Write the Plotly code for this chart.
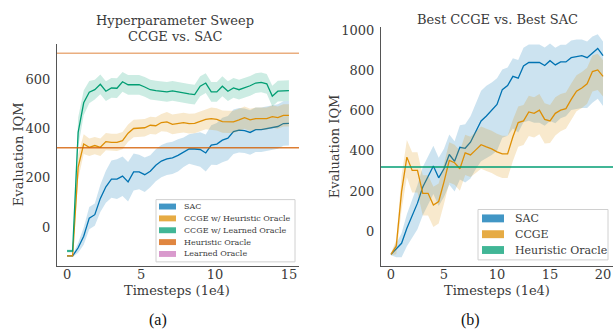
import plotly.graph_objects as go

# ---------------- data: panel (a) ----------------
x_a = [i * 0.375 for i in range(41)]
sac_a = [-116, -116, -83, -36, 37, 51, 117, 164, 195, 195,
         207, 184, 224, 224, 213, 227, 251, 268, 277, 281, 291,
         304, 317, 317, 315, 301, 333, 337, 353, 361, 387, 393, 391, 384, 395, 395, 400, 403, 408, 420, 421]
sac_a_hw = [4, 4, 20, 35, 45, 45, 55, 65, 75, 80, 80, 80, 75, 70, 70, 65, 65, 65, 65, 65, 65,
            60, 60, 65, 70, 75, 80, 85, 90, 90, 90, 90, 90, 90, 90, 90, 90, 90, 90, 90, 90]
ccge_h_a = [-116, -116, 244, 337, 324, 331, 324, 347, 344, 344,
            351, 381, 400, 403, 403, 413, 411, 424, 427, 417, 421,
            424, 420, 421, 429, 437, 440, 437, 428, 427, 427, 435, 444, 435, 440, 440, 440, 448, 444, 453, 453]
ccge_h_a_hw = [4, 4, 50, 40, 35, 35, 35, 35, 35, 35, 35, 35, 35, 35, 35, 35, 35, 35, 40, 40, 40,
               40, 40, 40, 40, 40, 45, 45, 45, 45, 45, 45, 45, 45, 45, 45, 45, 45, 45, 45, 45]
ccge_l_a = [-96, -96, 384, 504, 547, 557, 579, 551, 564, 563,
            589, 577, 577, 577, 568, 557, 553, 551, 548, 552, 547,
            544, 540, 537, 571, 584, 548, 548, 571, 551, 564, 557, 564, 573, 584, 587, 581, 531, 551, 553, 553]
ccge_l_a_hw = [6, 6, 60, 50, 45, 40, 40, 40, 40, 40, 40, 40, 40, 40, 40, 40, 40, 40, 40, 40, 40,
               40, 40, 40, 40, 40, 40, 40, 40, 40, 40, 40, 40, 40, 40, 40, 40, 42, 42, 42, 42]
heuristic_oracle_a = 322
learned_oracle_a = 705
legend_a = ["SAC", "CCGE w/ Heuristic Oracle", "CCGE w/ Learned Oracle", "Heuristic Oracle", "Learned Oracle"]

# ---------------- data: panel (b) ----------------
x_b = [i * 0.5 for i in range(41)]
sac_b = [-115, -90, -60, 15, 75, 140, 220, 270, 325,
         266, 311, 382, 348, 418, 413, 443, 500, 549, 574, 600, 631, 705, 725, 771, 762,
         823, 840, 840, 840, 825, 849, 828, 843, 843, 864, 869, 874, 864, 889, 910, 874]
sac_b_up = [5, 30, 50, 70, 80, 90, 100, 100, 100, 100, 100, 100, 100, 110, 120, 130, 140, 150, 150, 140,
            130, 100, 90, 90, 90, 90, 90, 90, 90, 90, 85, 85, 85, 85, 85, 85, 80, 80, 80, 70, 70]
sac_b_dn = [5, 40, 70, 90, 110, 130, 140, 140, 140, 140, 140, 150, 150, 160, 170, 180, 190, 200, 210, 220,
            230, 240, 250, 260, 270, 280, 290, 300, 300, 300, 300, 290, 280, 270, 260, 260, 260, 250, 250, 250, 250]
ccge_b = [-115, -74, 197, 369, 303, 303, 189, 189, 131, 148, 246, 353, 341, 311, 390, 380, 405, 431, 420, 410,
          395, 385, 385, 470, 541, 549, 594, 587, 603, 557, 549, 587, 603, 610, 656, 697, 713, 734, 795, 803, 771]
ccge_b_up = [5, 30, 80, 85, 90, 90, 90, 90, 90, 90, 90, 90, 90, 90, 90, 90, 90, 90, 90, 90,
             90, 90, 90, 85, 80, 80, 80, 80, 80, 80, 80, 80, 80, 80, 80, 80, 80, 80, 80, 80, 80]
ccge_b_dn = [5, 40, 90, 100, 110, 110, 110, 110, 110, 110, 110, 110, 110, 110, 110, 110, 115, 120, 120, 120,
             120, 120, 120, 120, 120, 120, 120, 120, 120, 120, 110, 110, 105, 100, 100, 100, 100, 100, 100, 100, 100]
heuristic_oracle_b = 320
legend_b = ["SAC", "CCGE", "Heuristic Oracle"]

BLUE, ORANGE, GREEN, VERM, PINK = "#0173b2", "#de8f05", "#029e73", "#d55e00", "#cc78bc"
W, H = 613, 333
TXT = "#3a3a3a"
SERIF = "DejaVu Serif"


def rgba(hexc, a):
    h = hexc.lstrip("#")
    return "rgba(%d,%d,%d,%s)" % (int(h[0:2], 16), int(h[2:4], 16), int(h[4:6], 16), a)


def px(x):
    return x / W


def py(y):
    return 1 - y / H


fig = go.Figure()


def add_series(x, y, lo, hi, color, xa, ya):
    fig.add_trace(go.Scatter(x=list(x) + list(x)[::-1], y=list(hi) + list(lo)[::-1],
                             fill="toself", fillcolor=rgba(color, 0.2), line=dict(width=0),
                             hoverinfo="skip", showlegend=False, xaxis=xa, yaxis=ya, mode="lines"))
    fig.add_trace(go.Scatter(x=x, y=y, mode="lines", line=dict(color=color, width=1.3),
                             showlegend=False, xaxis=xa, yaxis=ya))


# panel (a)
for ys, hw, col in [(sac_a, sac_a_hw, BLUE), (ccge_h_a, ccge_h_a_hw, ORANGE), (ccge_l_a, ccge_l_a_hw, GREEN)]:
    add_series(x_a, ys, [v - h for v, h in zip(ys, hw)], [v + h for v, h in zip(ys, hw)], col, "x", "y")

# panel (b)
add_series(x_b, sac_b, [v - d for v, d in zip(sac_b, sac_b_dn)], [v + u for v, u in zip(sac_b, sac_b_up)], BLUE, "x2", "y2")
add_series(x_b, ccge_b, [v - d for v, d in zip(ccge_b, ccge_b_dn)], [v + u for v, u in zip(ccge_b, ccge_b_up)], ORANGE, "x2", "y2")

shapes = [
    dict(type="line", xref="x domain", yref="y", x0=0, x1=1, y0=heuristic_oracle_a, y1=heuristic_oracle_a,
         line=dict(color=rgba(VERM, 0.8), width=1.5)),
    dict(type="line", xref="x domain", yref="y", x0=0, x1=1, y0=learned_oracle_a, y1=learned_oracle_a,
         line=dict(color=rgba(VERM, 0.5), width=1.5)),
    dict(type="line", xref="x2 domain", yref="y2", x0=0, x1=1, y0=heuristic_oracle_b, y1=heuristic_oracle_b,
         line=dict(color=rgba(GREEN, 0.75), width=2)),
]

annotations = []


def text(s, x, y, size, xanchor="center", yanchor="middle", angle=0, family=SERIF, color=TXT):
    annotations.append(dict(text=s, x=px(x), y=py(y), xref="paper", yref="paper", showarrow=False,
                            xanchor=xanchor, yanchor=yanchor, textangle=angle,
                            font=dict(family=family, size=size, color=color)))


# legend (a)
shapes.append(dict(type="rect", xref="paper", yref="paper", x0=px(156), x1=px(295), y0=py(198), y1=py(261),
                   line=dict(color="#d0d0d0", width=1), fillcolor="rgba(255,255,255,0.85)", layer="above"))
for i, (lab, col) in enumerate(zip(legend_a, [BLUE, ORANGE, GREEN, VERM, PINK])):
    cy = 205 + i * 12
    shapes.append(dict(type="rect", xref="paper", yref="paper", x0=px(159), x1=px(176), y0=py(cy + 3), y1=py(cy - 3),
                       line=dict(width=0), fillcolor=rgba(col, 0.75), layer="above"))
    text(lab, 182, cy, 8, xanchor="left")

# legend (b)
shapes.append(dict(type="rect", xref="paper", yref="paper", x0=px(478), x1=px(608), y0=py(208), y1=py(259),
                   line=dict(color="#d0d0d0", width=1), fillcolor="rgba(255,255,255,0.85)", layer="above"))
for i, (lab, col) in enumerate(zip(legend_b, [BLUE, ORANGE, GREEN])):
    cy = 217 + i * 16
    shapes.append(dict(type="rect", xref="paper", yref="paper", x0=px(482), x1=px(504), y0=py(cy + 4), y1=py(cy - 4),
                       line=dict(width=0), fillcolor=rgba(col, 0.75), layer="above"))
    text(lab, 513, cy, 11, xanchor="left")

# titles and axis labels
text("Hyperparameter Sweep", 175, 17, 13)
text("CCGE vs. SAC", 175, 33, 13)
text("Best CCGE vs. Best SAC", 497, 16, 13)
text("Evaluation IQM", 18, 152, 13, angle=-90)
text("Evaluation IQM", 334, 144, 13, angle=-90)
text("Timesteps (1e4)", 177, 289.5, 13)
text("Timesteps (1e4)", 497, 289.5, 13)
text("(a)", 158, 320, 16, family="Liberation Serif", color="#111")
text("(b)", 470, 320, 16, family="Liberation Serif", color="#111")

axis_common = dict(showline=True, linecolor="#555", linewidth=1.3, showgrid=False, zeroline=False, ticks="",
                   tickfont=dict(family=SERIF, size=13, color=TXT))

fig.update_layout(
    width=W, height=H, margin=dict(l=0, r=0, t=0, b=0),
    paper_bgcolor="white", plot_bgcolor="white", showlegend=False,
    xaxis=dict(domain=[px(57), px(299)], range=[-0.68, 15.68], tickvals=[0, 5, 10, 15], anchor="y",
               ticklabelstandoff=-4, **axis_common),
    yaxis=dict(domain=[py(265), py(40)], range=[-156, 744], tickvals=[0, 200, 400, 600], anchor="x",
               ticklabelstandoff=3, **axis_common),
    xaxis2=dict(domain=[px(381), 1.0], range=[-0.94, 20.94], tickvals=[0, 5, 10, 15, 20], anchor="y2",
                ticklabelstandoff=-4, **axis_common),
    yaxis2=dict(domain=[py(265), py(23)], range=[-172, 1018], tickvals=[0, 200, 400, 600, 800, 1000], anchor="x2",
                ticklabelstandoff=3, **axis_common),
    shapes=shapes, annotations=annotations,
)

fig.write_html("out.html", config={"displayModeBar": False},
               post_script="document.body.style.margin='0px';document.body.style.overflow='hidden';")
